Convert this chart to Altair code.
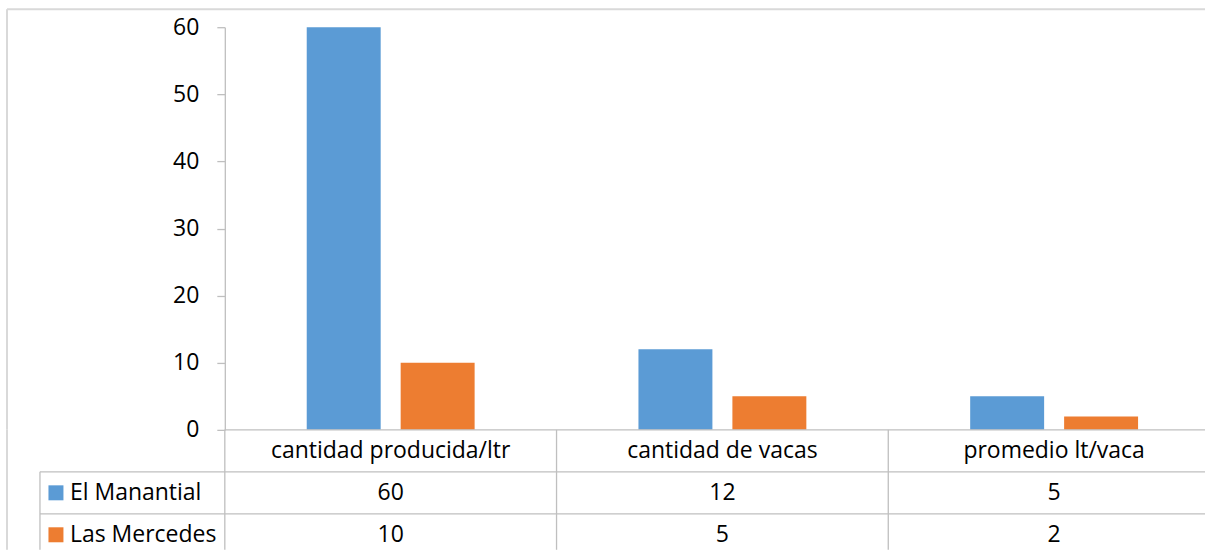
import altair as alt
import pandas as pd

categories = ["cantidad producida/ltr", "cantidad de vacas", "promedio lt/vaca"]
series_names = ["El Manantial", "Las Mercedes"]
el_manantial = [60, 12, 5]
las_mercedes = [10, 5, 2]
y_ticks = [0, 10, 20, 30, 40, 50, 60]
colors = ["#5B9BD5", "#ED7D31"]

rows = []
for s, vals in zip(series_names, [el_manantial, las_mercedes]):
    for c, v in zip(categories, vals):
        rows.append({"category": c, "series": s, "row": s, "value": v})
df = pd.DataFrame(rows)
hdr = pd.DataFrame({"category": categories, "row": ["header"] * len(categories)})
legend_df = pd.DataFrame({"row": series_names, "series": series_names})
one = pd.DataFrame({"k": [0]})

FONT = "Open Sans"
FS = 23
W = 981          # visible plot width (chart is cropped on the right)
BAND_RANGE = 996  # full width of the three category bands
H = 403
ROW_H = 42
TAB_H = 120      # visible part of the table (cropped at the bottom)
row_order = ["header"] + series_names
LINE = "#bfbfbf"
BORDER = "#d9d9d9"

xscale = alt.Scale(paddingInner=0, paddingOuter=0, range=[0, BAND_RANGE])
color_enc = alt.Color("series:N", sort=series_names,
                      scale=alt.Scale(domain=series_names, range=colors), legend=None)

bars = alt.Chart(df).mark_bar().encode(
    x=alt.X("category:N", sort=categories, scale=xscale, axis=None),
    xOffset=alt.XOffset("series:N", sort=series_names,
                        scale=alt.Scale(paddingInner=0.2128, paddingOuter=0.872)),
    y=alt.Y("value:Q", scale=alt.Scale(domain=[0, 60], nice=False),
            axis=alt.Axis(values=y_ticks, title=None, grid=False, labelFont=FONT,
                          labelFontSize=FS, labelColor="black", tickSize=8, tickColor=LINE,
                          tickWidth=1.3, domainColor=LINE, domainWidth=1.3, labelPadding=18)),
    color=color_enc,
)

border_v1 = alt.Chart(one).mark_rule(color=BORDER, strokeWidth=2).encode(
    x=alt.value(-218), y=alt.value(-18), y2=alt.value(H))
border_h = alt.Chart(one).mark_rule(color=BORDER, strokeWidth=2).encode(
    x=alt.value(-218), x2=alt.value(W), y=alt.value(-18))

top = alt.layer(bars, border_v1, border_h).properties(width=W, height=H)

row_scale = alt.Scale(domain=row_order, paddingInner=0, paddingOuter=0, range=[0, 3 * ROW_H])
y_row = alt.Y("row:N", sort=row_order, scale=row_scale, axis=None)
x_tab = alt.X("category:N", sort=categories, scale=xscale, axis=None)

hdr_text = alt.Chart(hdr).mark_text(font=FONT, fontSize=FS, color="black").encode(
    x=x_tab, y=y_row, text="category:N")
val_text = alt.Chart(df).mark_text(font=FONT, fontSize=FS, color="black").encode(
    x=x_tab, y=y_row, text="value:Q")
vlines = alt.Chart(hdr).mark_rule(color=LINE, strokeWidth=1.3).encode(
    x=alt.X("category:N", sort=categories, scale=xscale, axis=None, bandPosition=0),
    y=alt.value(0), y2=alt.value(TAB_H))
axis_line = alt.Chart(one).mark_rule(color=LINE, strokeWidth=1.3).encode(
    x=alt.value(0), x2=alt.value(W), y=alt.value(0))
hlines = alt.Chart(legend_df).mark_rule(color=LINE, strokeWidth=1.3).encode(
    y=alt.Y("row:N", sort=row_order, scale=row_scale, axis=None, bandPosition=0),
    x=alt.value(-185), x2=alt.value(W))
left_line = alt.Chart(one).mark_rule(color=LINE, strokeWidth=1.3).encode(
    x=alt.value(-185), y=alt.value(ROW_H), y2=alt.value(TAB_H))
border_v2 = alt.Chart(one).mark_rule(color=BORDER, strokeWidth=2).encode(
    x=alt.value(-218), y=alt.value(0), y2=alt.value(TAB_H))
leg_sq = alt.Chart(legend_df).mark_square(size=225, opacity=1).encode(
    x=alt.value(-169), y=y_row, color=color_enc)
leg_txt = alt.Chart(legend_df).mark_text(font=FONT, fontSize=FS, color="black", align="left").encode(
    x=alt.value(-155), y=y_row, text="series:N")

table = alt.layer(vlines, axis_line, hlines, left_line, border_v2, leg_sq, leg_txt,
                  hdr_text, val_text).properties(width=W, height=TAB_H)

chart = alt.vconcat(top, table, spacing=0, bounds="flush").resolve_scale(y="independent").properties(
    padding={"left": 6, "top": 8, "right": 0, "bottom": 0}
).configure_view(stroke=None)

chart.save("out.html", embed_options={"renderer": "svg", "actions": False})
